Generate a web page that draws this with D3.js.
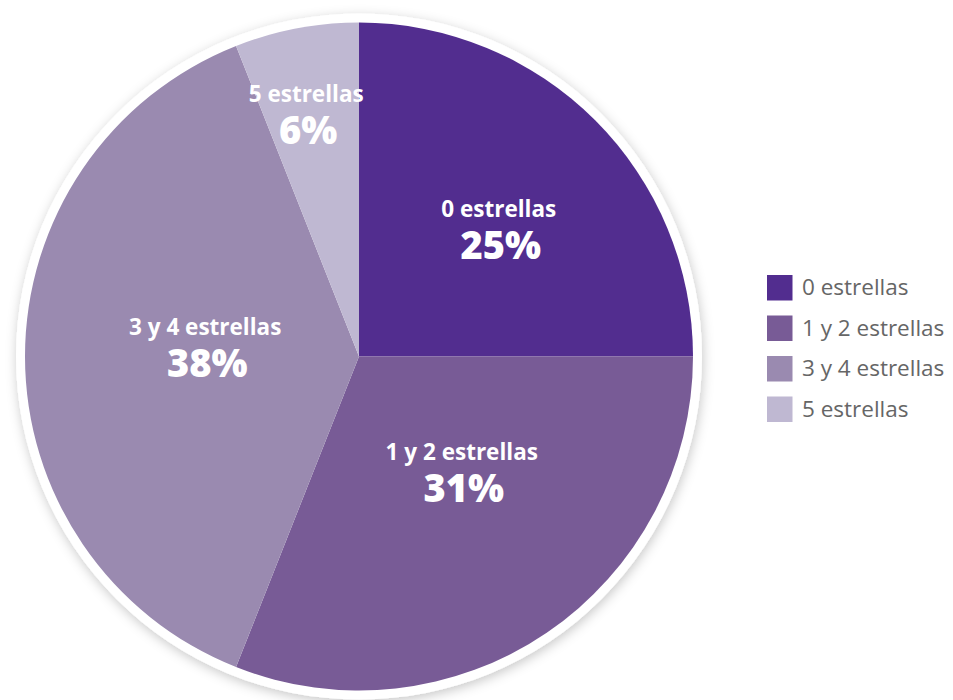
<!DOCTYPE html>
<html>
<head>
<meta charset="utf-8">
<script src="https://cdn.jsdelivr.net/npm/d3@7"></script>
<style>
  html, body { margin: 0; padding: 0; background: #ffffff; }
  svg { display: block; }
</style>
</head>
<body>
<svg id="chart" width="953" height="700"></svg>
<script>
// Rating groups and their share of the total (%)
const categories = ["0 estrellas", "1 y 2 estrellas", "3 y 4 estrellas", "5 estrellas"];
const shares = [25, 31, 38, 6];
const colors = ["#522d8f", "#785b96", "#9a8ab0", "#bfb8d2"];

// Label placement inside each slice: distance from the centre and a small angular nudge (degrees)
const labelRadius = [188, 156, 154, 246];
const labelNudge = [3, -7, 2.8, -1.6];

const svg = d3.select("#chart");
const cx = 359, cy = 356.5, r = 334, rim = 343;

const defs = svg.append("defs");
const shadow = defs.append("filter").attr("id", "rimShadow")
  .attr("x", "-10%").attr("y", "-10%").attr("width", "120%").attr("height", "120%");
shadow.append("feDropShadow")
  .attr("dx", 1).attr("dy", 3).attr("stdDeviation", 6)
  .attr("flood-color", "#000").attr("flood-opacity", 0.22);

const g = svg.append("g").attr("transform", `translate(${cx},${cy})`);

// white rim with soft shadow behind the pie
g.append("circle").attr("r", rim).attr("fill", "#fff").attr("filter", "url(#rimShadow)");

const pie = d3.pie().sort(null).value(d => d.value);
const data = pie(categories.map((c, i) => ({ name: c, value: shares[i], color: colors[i], i })));
const arc = d3.arc().innerRadius(0).outerRadius(r);

g.selectAll("path.slice").data(data).enter().append("path")
  .attr("class", "slice")
  .attr("d", arc)
  .attr("fill", d => d.data.color);

const labels = g.selectAll("g.lbl").data(data).enter().append("g")
  .attr("class", "lbl")
  .attr("transform", d => {
    const a = (d.startAngle + d.endAngle) / 2 + labelNudge[d.data.i] * Math.PI / 180;
    const lr = labelRadius[d.data.i];
    return `translate(${lr * Math.sin(a)},${-lr * Math.cos(a)})`;
  });

labels.append("text")
  .attr("text-anchor", "middle")
  .attr("y", -14)
  .attr("fill", "#fff")
  .style("font-family", "'Open Sans', sans-serif")
  .style("font-weight", 700)
  .style("font-size", "22.5px")
  .text(d => d.data.name);

labels.append("text")
  .attr("text-anchor", "middle")
  .attr("x", 2)
  .attr("y", 28)
  .attr("fill", "#fff")
  .style("font-family", "'Open Sans', sans-serif")
  .style("font-weight", 800)
  .style("font-size", "38px")
  .text(d => d.data.value + "%");

// Legend
const legend = svg.append("g").attr("transform", "translate(767,275)");
const rowH = 40.5;
const items = legend.selectAll("g").data(categories).enter().append("g")
  .attr("transform", (d, i) => `translate(0,${i * rowH})`);
items.append("rect").attr("width", 25.5).attr("height", 25.5).attr("fill", (d, i) => colors[i]);
items.append("text")
  .attr("x", 35).attr("y", 20)
  .attr("fill", "#666666")
  .style("font-family", "'Open Sans', sans-serif")
  .style("font-size", "22.5px")
  .text(d => d);
</script>
</body>
</html>
